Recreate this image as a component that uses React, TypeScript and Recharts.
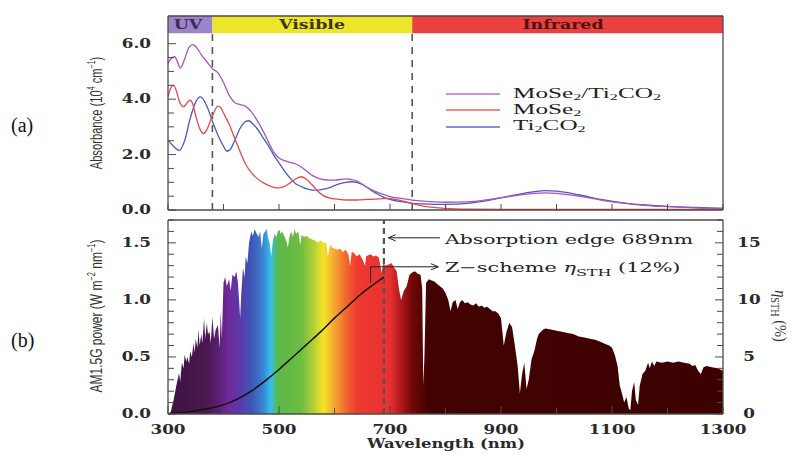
import React from 'react'
import {
  ComposedChart,
  Line,
  Area,
  XAxis,
  YAxis,
  ReferenceArea,
  ReferenceLine,
} from 'recharts'

// (a) absorbance, 10^4 cm^-1: [wavelength nm, value]
const heteroAbs: [number, number][] = [
  [300, 5.29], [305, 5.45], [312, 5.53], [318, 5.3], [322, 5.12], [330, 5.45], [338, 5.88],
  [345, 5.97], [352, 5.85], [360, 5.6], [370, 5.35], [380, 5.1], [390, 4.95], [400, 4.6],
  [410, 4.15], [420, 3.88], [430, 3.8], [440, 3.74], [450, 3.55], [460, 3.25], [470, 2.9],
  [480, 2.5], [490, 2.1], [500, 1.88], [510, 1.78], [520, 1.72], [530, 1.66], [540, 1.55],
  [550, 1.4], [560, 1.25], [570, 1.15], [580, 1.1], [590, 1.08], [600, 1.08], [610, 1.1],
  [620, 1.12], [630, 1.1], [640, 1.05], [650, 0.93], [660, 0.8], [670, 0.7], [680, 0.62],
  [690, 0.55], [700, 0.48], [720, 0.42], [740, 0.36], [760, 0.32], [800, 0.28], [840, 0.29],
  [880, 0.38], [920, 0.5], [960, 0.6], [980, 0.62], [1000, 0.6], [1040, 0.5], [1080, 0.36],
  [1120, 0.25], [1160, 0.17], [1200, 0.12], [1250, 0.08], [1300, 0.06],
]
const mose2Abs: [number, number][] = [
  [300, 4.08], [305, 4.4], [310, 4.5], [315, 4.3], [320, 3.95], [328, 3.72], [335, 3.88],
  [340, 3.96], [345, 3.8], [350, 3.4], [358, 2.9], [364, 2.76], [370, 2.9], [380, 3.4],
  [390, 3.75], [395, 3.7], [400, 3.5], [410, 3.1], [420, 2.6], [430, 2.1], [440, 1.65],
  [450, 1.35], [460, 1.15], [470, 1.0], [480, 0.9], [490, 0.82], [500, 0.8], [510, 0.85],
  [520, 0.98], [530, 1.12], [540, 1.2], [550, 1.1], [560, 0.9], [570, 0.68], [580, 0.52],
  [590, 0.44], [600, 0.4], [620, 0.36], [640, 0.36], [660, 0.38], [680, 0.4], [695, 0.42],
  [710, 0.38], [720, 0.34], [740, 0.24], [760, 0.14], [800, 0.06], [840, 0.03], [900, 0.02],
  [1000, 0.02], [1300, 0.02],
]
const ti2co2Abs: [number, number][] = [
  [300, 2.52], [310, 2.3], [320, 2.15], [330, 2.5], [340, 3.3], [350, 3.9], [358, 4.08],
  [365, 3.95], [372, 3.65], [380, 3.2], [390, 2.7], [400, 2.3], [406, 2.12], [412, 2.18],
  [420, 2.5], [430, 2.95], [440, 3.2], [446, 3.22], [452, 3.12], [460, 2.95], [470, 2.65],
  [480, 2.35], [490, 2.0], [500, 1.7], [510, 1.4], [520, 1.15], [530, 0.95], [540, 0.85],
  [550, 0.76], [560, 0.72], [570, 0.72], [580, 0.75], [590, 0.8], [600, 0.88], [610, 0.95],
  [620, 1.0], [630, 1.02], [640, 1.0], [650, 0.92], [660, 0.8], [670, 0.66], [680, 0.55],
  [690, 0.45], [700, 0.38], [720, 0.3], [740, 0.24], [760, 0.22], [800, 0.2], [840, 0.24],
  [880, 0.36], [920, 0.52], [960, 0.66], [980, 0.7], [1000, 0.68], [1040, 0.55], [1080, 0.38],
  [1120, 0.26], [1160, 0.18], [1200, 0.13], [1250, 0.09], [1300, 0.06],
]

// (b) AM1.5G solar power, W m^-2 nm^-1
const am15g: [number, number][] = [
  [300, 0], [305, 0.02], [310, 0.12], [315, 0.25], [320, 0.36], [322, 0.28], [325, 0.45],
  [328, 0.4], [330, 0.52], [333, 0.46], [335, 0.5], [338, 0.44], [340, 0.55], [343, 0.5],
  [346, 0.62], [348, 0.54], [350, 0.66], [353, 0.58], [355, 0.74], [357, 0.6], [360, 0.7],
  [362, 0.62], [365, 0.84], [367, 0.66], [370, 0.8], [372, 0.7], [375, 0.72], [377, 0.62],
  [380, 0.85], [383, 0.66], [386, 0.74], [390, 0.78], [393, 0.58], [395, 0.9], [397, 0.66],
  [400, 1.15], [403, 1.2], [406, 1.12], [410, 1.18], [413, 1.08], [416, 1.22], [420, 1.2],
  [423, 1.25], [426, 1.15], [428, 1.0], [430, 0.84], [432, 1.05], [435, 1.28], [438, 1.2],
  [440, 1.38], [443, 1.32], [446, 1.5], [450, 1.6], [453, 1.56], [456, 1.62], [460, 1.58],
  [463, 1.55], [466, 1.6], [469, 1.45], [472, 1.58], [475, 1.6], [478, 1.62], [480, 1.55],
  [483, 1.5], [486, 1.38], [489, 1.52], [492, 1.58], [495, 1.55], [498, 1.6], [500, 1.62],
  [503, 1.58], [506, 1.6], [510, 1.55], [513, 1.52], [516, 1.46], [519, 1.56], [522, 1.6],
  [525, 1.55], [528, 1.62], [531, 1.58], [535, 1.6], [538, 1.48], [541, 1.57], [545, 1.55],
  [550, 1.56], [555, 1.54], [560, 1.53], [565, 1.52], [570, 1.5], [575, 1.52], [580, 1.5],
  [585, 1.5], [588, 1.38], [592, 1.48], [596, 1.46], [600, 1.45], [605, 1.44], [610, 1.45],
  [615, 1.42], [620, 1.44], [625, 1.4], [628, 1.3], [631, 1.42], [635, 1.41], [640, 1.38],
  [645, 1.4], [650, 1.36], [655, 1.3], [657, 1.38], [660, 1.39], [665, 1.4], [670, 1.38],
  [675, 1.39], [680, 1.37], [685, 1.24], [688, 1.32], [692, 1.3], [697, 1.31], [703, 1.32],
  [708, 1.28], [712, 1.25], [716, 1.1], [720, 1.0], [725, 1.08], [730, 1.12], [735, 1.22],
  [740, 1.24], [745, 1.25], [750, 1.23], [755, 1.22], [758, 1.1], [760, 0.25], [762, 0.5],
  [765, 1.15], [770, 1.18], [775, 1.17], [780, 1.16], [785, 1.14], [790, 1.12], [795, 1.1],
  [800, 1.06], [805, 1.0], [809, 0.9], [813, 0.98], [818, 1.0], [822, 0.92], [826, 0.98],
  [830, 1.0], [835, 0.97], [840, 0.98], [845, 0.96], [850, 0.95], [855, 0.97], [860, 0.94],
  [865, 0.95], [870, 0.93], [875, 0.94], [880, 0.92], [885, 0.9], [890, 0.9], [895, 0.88],
  [900, 0.84], [905, 0.6], [910, 0.72], [915, 0.8], [920, 0.76], [925, 0.6], [930, 0.42],
  [934, 0.18], [938, 0.35], [942, 0.45], [946, 0.22], [950, 0.3], [955, 0.48], [960, 0.55],
  [965, 0.66], [968, 0.7], [972, 0.72], [976, 0.74], [980, 0.75], [990, 0.74], [1000, 0.73],
  [1010, 0.72], [1020, 0.71], [1030, 0.7], [1040, 0.68], [1050, 0.67], [1060, 0.66],
  [1070, 0.65], [1080, 0.63], [1090, 0.61], [1095, 0.6], [1100, 0.58], [1105, 0.52],
  [1110, 0.42], [1114, 0.25], [1118, 0.18], [1122, 0.1], [1126, 0.15], [1130, 0.05],
  [1133, 0.03], [1136, 0.2], [1140, 0.28], [1143, 0.12], [1147, 0.08], [1150, 0.25],
  [1155, 0.35], [1160, 0.38], [1165, 0.45], [1168, 0.4], [1172, 0.46], [1176, 0.42],
  [1180, 0.46], [1190, 0.45], [1200, 0.46], [1210, 0.45], [1220, 0.46], [1230, 0.45],
  [1240, 0.44], [1245, 0.42], [1250, 0.43], [1255, 0.38], [1260, 0.35], [1265, 0.41],
  [1270, 0.42], [1280, 0.41], [1290, 0.4], [1300, 0.38],
]

// Z-scheme eta_STH (%), right axis
const etaSTH: [number, number][] = [
  [300, 0], [325, 0.1], [350, 0.3], [375, 0.5], [400, 0.8], [425, 1.3], [450, 2.0],
  [475, 2.9], [500, 3.9], [525, 5.0], [550, 6.1], [575, 7.2], [600, 8.4], [625, 9.5],
  [650, 10.6], [675, 11.5], [689, 12.0],
]

const bands = [
  { name: 'UV', from: 300, to: 380, color: '#9d84c8', text: '#3b2c55' },
  { name: 'Visible', from: 380, to: 740, color: '#ece52a', text: '#3a3512' },
  { name: 'Infrared', from: 740, to: 1300, color: '#ea4040', text: '#4a1414' },
]

// spectrum colour stops (wavelength nm -> colour)
const specStops: [number, string][] = [
  [300, '#3d1240'], [370, '#4a1850'], [390, '#5a1e72'], [410, '#6f2a9c'], [430, '#5a3aa8'],
  [450, '#3e55b5'], [470, '#3a7fd0'], [485, '#35c0ec'], [498, '#5cb848'], [540, '#6dbd42'],
  [565, '#bcd234'], [580, '#f4e428'], [600, '#f5a632'], [620, '#f06a30'], [640, '#ee3a30'],
  [700, '#e83030'], [720, '#b01818'], [740, '#700808'], [770, '#420202'], [1300, '#3c0000'],
]

const xTicks = [300, 400, 500, 600, 700, 800, 900, 1000, 1100, 1200, 1300]
const xLabels = [300, 500, 700, 900, 1100, 1300]
const absTicks = [0, 0.5, 1, 1.5, 2, 2.5, 3, 3.5, 4, 4.5, 5, 5.5, 6]
const absLabels = [0, 2, 4, 6]
const powTicks = [0, 0.1, 0.2, 0.3, 0.4, 0.5, 0.6, 0.7, 0.8, 0.9, 1, 1.1, 1.2, 1.3, 1.4, 1.5, 1.6, 1.7]
const powLabels = [0, 0.5, 1, 1.5]
const etaTicks = [0, 1, 2, 3, 4, 5, 6, 7, 8, 9, 10, 11, 12, 13, 14, 15, 16, 17]
const etaLabels = [0, 5, 10, 15]

const pts = (arr: [number, number][]) => arr.map(([x, y]) => ({ x, y }))

const SERIF = "'DejaVu Serif', serif"
const TIMES = "'Liberation Serif', 'Times New Roman', serif"
const FRAME = '#4a4a4a'

function AxisTick(props: any) {
  const { x, y, payload, side, labels, fmt, dx = 0, dy = 0 } = props
  const v = payload.value
  const major = labels ? labels.some((m: number) => Math.abs(m - v) < 1e-6) : false
  const len = major ? 8 : 6
  let line
  if (side === 'left') line = <line x1={x} y1={y} x2={x + len} y2={y} />
  else if (side === 'right') line = <line x1={x} y1={y} x2={x - len} y2={y} />
  else if (side === 'bottom') line = <line x1={x} y1={y} x2={x} y2={y - len} />
  else line = <line x1={x} y1={y} x2={x} y2={y + len} />
  const anchor = side === 'left' ? 'end' : 'middle'
  return (
    <g>
      <g stroke={FRAME} strokeWidth={1}>{line}</g>
      {major && fmt && (
        <text
          transform={`translate(${x + dx},${y + dy}) scale(1.4,1)`}
          textAnchor={anchor}
          fontFamily={SERIF}
          fontWeight="bold"
          fontSize={12}
          fill="#2a2a2a"
        >
          {fmt(v)}
        </text>
      )}
    </g>
  )
}

function Arrow(props: any) {
  const { x1, y1, x2, y2, head } = props
  const ang = Math.atan2(y2 - y1, x2 - x1)
  const h = 8
  const a1 = ang + Math.PI - 0.4
  const a2 = ang + Math.PI + 0.4
  return (
    <g stroke="#222" strokeWidth={1} fill="none">
      <line x1={x1} y1={y1} x2={x2} y2={y2} />
      {head && (
        <polyline
          points={`${x2 + h * Math.cos(a1)},${y2 + h * Math.sin(a1)} ${x2},${y2} ${x2 + h * Math.cos(a2)},${y2 + h * Math.sin(a2)}`}
        />
      )}
    </g>
  )
}

export default function App() {
  const axisLine = { stroke: FRAME, strokeWidth: 1.3 }
  const fmt1 = (v: number) => v.toFixed(1)
  const fmt0 = (v: number) => String(v)

  return (
    <div style={{ position: 'absolute', left: 0, top: 0, width: 800, height: 455, background: '#fff' }}>
      {/* (a) absorbance: plot box 168..723 x 16..210 */}
      <div style={{ position: 'absolute', left: 0, top: 0 }}>
        <ComposedChart width={800} height={215} margin={{ top: 15, right: 76, bottom: 4, left: 167 }}>
          <XAxis
            type="number" dataKey="x" domain={[300, 1300]} ticks={xTicks} interval={0}
            height={1} tickSize={0} tickMargin={0} tickLine={false} axisLine={axisLine}
            tick={<AxisTick side="bottom" />}
          />
          <XAxis
            xAxisId="top" orientation="top" type="number" domain={[300, 1300]} ticks={xTicks}
            interval={0} height={1} tickSize={0} tickMargin={0} tickLine={false} axisLine={axisLine}
            tick={<AxisTick side="top" />}
          />
          <YAxis
            type="number" domain={[0, 7]} ticks={absTicks} interval={0} width={1}
            tickSize={0} tickMargin={0} tickLine={false} axisLine={axisLine}
            tick={<AxisTick side="left" labels={absLabels} fmt={fmt1} dx={-17} dy={4} />}
          />
          <YAxis
            yAxisId="r" orientation="right" type="number" domain={[0, 7]} ticks={absTicks}
            interval={0} width={1} tickSize={0} tickMargin={0} tickLine={false} axisLine={axisLine}
            tick={<AxisTick side="right" />}
          />
          {bands.map((b) => (
            <ReferenceArea key={b.name} x1={b.from} x2={b.to} y1={6.38} y2={7} fill={b.color} fillOpacity={1} stroke="none" />
          ))}
          <ReferenceLine segment={[{ x: 380, y: 0 }, { x: 380, y: 6.38 }]} stroke="#555" strokeWidth={1.6} strokeDasharray="7 6" />
          <ReferenceLine segment={[{ x: 740, y: 0 }, { x: 740, y: 6.38 }]} stroke="#555" strokeWidth={1.6} strokeDasharray="7 6" />
          <Line data={pts(ti2co2Abs)} dataKey="y" type="monotone" stroke="#4b5bbd" strokeWidth={1.3} dot={false} isAnimationActive={false} />
          <Line data={pts(mose2Abs)} dataKey="y" type="monotone" stroke="#e84a4a" strokeWidth={1.3} dot={false} isAnimationActive={false} />
          <Line data={pts(heteroAbs)} dataKey="y" type="monotone" stroke="#a855b8" strokeWidth={1.3} dot={false} isAnimationActive={false} />
        </ComposedChart>
      </div>

      {/* (b) solar spectrum: plot box 168..723 x 220..414 */}
      <div style={{ position: 'absolute', left: 0, top: 210 }}>
        <ComposedChart width={800} height={245} margin={{ top: 9, right: 76, bottom: 40, left: 167 }}>
          <defs>
            <linearGradient id="specGrad" x1="0" y1="0" x2="1" y2="0">
              {specStops.map(([w, c]) => (
                <stop key={w} offset={(w - 300) / 1000} stopColor={c} />
              ))}
            </linearGradient>
          </defs>
          <XAxis
            type="number" dataKey="x" domain={[300, 1300]} ticks={xTicks} interval={0}
            height={1} tickSize={0} tickMargin={0} tickLine={false} axisLine={axisLine}
            tick={<AxisTick side="bottom" labels={xLabels} fmt={fmt0} dy={20} />}
          />
          <XAxis
            xAxisId="top" orientation="top" type="number" domain={[300, 1300]} ticks={xTicks}
            interval={0} height={1} tickSize={0} tickMargin={0} tickLine={false} axisLine={axisLine}
            tick={<AxisTick side="top" />}
          />
          <YAxis
            type="number" domain={[0, 1.7]} ticks={powTicks} interval={0} width={1}
            tickSize={0} tickMargin={0} tickLine={false} axisLine={axisLine}
            tick={<AxisTick side="left" labels={powLabels} fmt={fmt1} dx={-17} dy={4} />}
          />
          <YAxis
            yAxisId="eta" orientation="right" type="number" domain={[0, 17]} ticks={etaTicks}
            interval={0} width={1} tickSize={0} tickMargin={0} tickLine={false} axisLine={axisLine}
            tick={<AxisTick side="right" labels={etaLabels} fmt={fmt0} dx={26} dy={4} />}
          />
          <Area
            data={pts(am15g)} dataKey="y" type="linear" fill="url(#specGrad)" fillOpacity={1}
            stroke="none" isAnimationActive={false}
          />
          <ReferenceLine x={689} stroke="#555" strokeWidth={2.2} strokeDasharray="6 4" />
          <Line
            data={pts(etaSTH)} yAxisId="eta" dataKey="y" type="monotone" stroke="#111"
            strokeWidth={1.5} dot={false} isAnimationActive={false}
          />
          <ReferenceLine segment={[{ x: 790, y: 1.544 }, { x: 697, y: 1.544 }]} shape={(p: any) => <Arrow {...p} head />} />
          <ReferenceLine segment={[{ x: 665, y: 1.15 }, { x: 665, y: 1.29 }]} shape={(p: any) => <Arrow {...p} />} />
          <ReferenceLine segment={[{ x: 665, y: 1.29 }, { x: 787, y: 1.29 }]} shape={(p: any) => <Arrow {...p} head />} />
        </ComposedChart>
      </div>

      {/* text overlay */}
      <svg width={800} height={455} style={{ position: 'absolute', left: 0, top: 0, pointerEvents: 'none' }}>
        <text x={11} y={132} fontFamily={TIMES} fontSize={20} fill="#111">(a)</text>
        <text x={11} y={347} fontFamily={TIMES} fontSize={20} fill="#111">(b)</text>

        {/* band labels */}
        <text transform="translate(188,29) scale(1.45,1)" textAnchor="middle" fontFamily={SERIF} fontWeight="bold" fontSize={12} fill={bands[0].text}>UV</text>
        <text transform="translate(312,29) scale(1.45,1)" textAnchor="middle" fontFamily={SERIF} fontWeight="bold" fontSize={12} fill={bands[1].text}>Visible</text>
        <text transform="translate(563,29) scale(1.45,1)" textAnchor="middle" fontFamily={SERIF} fontWeight="bold" fontSize={12} fill={bands[2].text}>Infrared</text>

        {/* legend */}
        <g strokeWidth={1.3}>
          <line x1={446} y1={94} x2={500} y2={94} stroke="#c070c8" />
          <line x1={446} y1={110} x2={500} y2={110} stroke="#e86060" />
          <line x1={446} y1={127} x2={500} y2={127} stroke="#5c6cc4" />
        </g>
        <g fontFamily={TIMES} fontSize={14} fill="#222">
          <text transform="translate(513,98) scale(1.8,1)">
            MoSe<tspan fontSize={9} dy={2}>2</tspan><tspan dy={-2}>/Ti</tspan><tspan fontSize={9} dy={2}>2</tspan><tspan dy={-2}>CO</tspan><tspan fontSize={9} dy={2}>2</tspan>
          </text>
          <text transform="translate(513,114) scale(1.8,1)">
            MoSe<tspan fontSize={9} dy={2}>2</tspan>
          </text>
          <text transform="translate(513,130) scale(1.8,1)">
            Ti<tspan fontSize={9} dy={2}>2</tspan><tspan dy={-2}>CO</tspan><tspan fontSize={9} dy={2}>2</tspan>
          </text>
        </g>

        {/* axis titles */}
        <text transform="translate(102,113) rotate(-90) scale(0.7,1)" textAnchor="middle" fontFamily="'Liberation Sans', sans-serif" fontSize={16} fill="#333">
          Absorbance (10<tspan fontSize={10} dy={-7}>4</tspan><tspan dy={7}> cm</tspan><tspan fontSize={10} dy={-7}>−1</tspan><tspan dy={7}>)</tspan>
        </text>
        <text transform="translate(102,316) rotate(-90) scale(0.75,1)" textAnchor="middle" fontFamily="'Liberation Sans', sans-serif" fontSize={16} fill="#333">
          AM1.5G power (W m<tspan fontSize={10} dy={-7}>−2</tspan><tspan dy={7}> nm</tspan><tspan fontSize={10} dy={-7}>−1</tspan><tspan dy={7}>)</tspan>
        </text>
        <text transform="translate(775,316) rotate(90) scale(0.85,1)" textAnchor="middle" fontFamily={TIMES} fontSize={17} fill="#333">
          <tspan fontStyle="italic">η</tspan><tspan fontSize={12} dy={4}>STH</tspan><tspan dy={-4}> (%)</tspan>
        </text>
        <text x={367} y={448} textLength={158} lengthAdjust="spacingAndGlyphs" fontFamily={SERIF} fontWeight="bold" fontSize={13} fill="#2a2a2a">
          Wavelength (nm)
        </text>

        {/* annotations */}
        <text x={445} y={244} textLength={248} lengthAdjust="spacingAndGlyphs" fontFamily={SERIF} fontSize={13} fill="#222">
          Absorption edge 689nm
        </text>
        <text transform="translate(445,272) scale(1.6,1)" fontFamily={SERIF} fontSize={13} fill="#222">
          Z−scheme <tspan fontStyle="italic">η</tspan><tspan fontSize={10} dy={4}>STH</tspan><tspan dy={-4}> (12%)</tspan>
        </text>
      </svg>
    </div>
  )
}
